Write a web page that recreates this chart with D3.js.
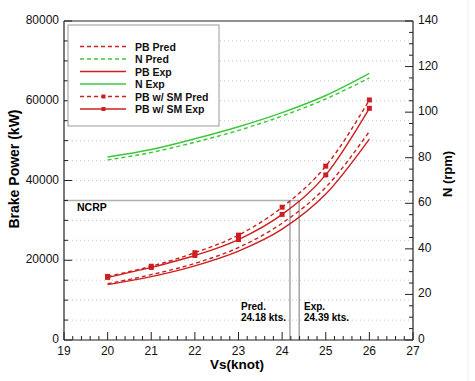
<!DOCTYPE html>
<html><head><meta charset="utf-8">
<script src="https://cdn.jsdelivr.net/npm/d3@7/dist/d3.min.js"></script>
<style>
html,body{margin:0;padding:0;background:#fff;}
svg{display:block;font-family:"Liberation Sans",Arial,Helvetica,sans-serif;}
</style></head>
<body><svg id="c" width="475" height="381"></svg>
<script>
const speeds = [20, 21, 22, 23, 24, 25, 26];
const pbPred = [14100, 16400, 19200, 23200, 29300, 38300, 52300];
const pbExp = [13900, 15900, 18600, 22300, 27800, 36600, 50400];
const nPred = [79.0, 82.3, 86.8, 92.0, 98.3, 105.8, 115.0];
const nExp = [80.3, 83.6, 88.3, 93.6, 99.8, 107.3, 117.0];
const pbSmPred = [15950, 18500, 21900, 26300, 33300, 43600, 60200];
const pbSmExp = [15700, 18200, 21200, 25200, 31500, 41400, 58100];
const xTicks = [19, 20, 21, 22, 23, 24, 25, 26, 27];
const yLeftTicks = [0, 20000, 40000, 60000, 80000];
const yRightTicks = [0, 20, 40, 60, 80, 100, 120, 140];
const ncrp = 35000;
const predSpeed = 24.18, expSpeed = 24.39;

const RED = "#cc2020", GREEN = "#3cc83c";
const svg = d3.select("#c");
const L = 64, R = 413, T = 21, B = 340;
const x = d3.scaleLinear().domain([19, 27]).range([L, R]);
const yL = d3.scaleLinear().domain([0, 80000]).range([B, T]);
const yR = d3.scaleLinear().domain([0, 140]).range([B, T]);

// faint right border artifact
svg.append("line").attr("x1", 468).attr("x2", 468).attr("y1", 0).attr("y2", 381)
  .attr("stroke", "#eeeeee").attr("stroke-width", 1);

// grid (dotted) every 5000
svg.append("g").selectAll("line").data(d3.range(5000, 80000, 5000)).join("line")
  .attr("x1", L).attr("x2", R).attr("y1", d => yL(d)).attr("y2", d => yL(d))
  .attr("stroke", "#c8c8c8").attr("stroke-width", 1).attr("stroke-dasharray", "1,3");

// NCRP lines
const g = svg.append("g");
g.append("line").attr("x1", x(19)).attr("x2", x(expSpeed)).attr("y1", yL(ncrp)).attr("y2", yL(ncrp))
  .attr("stroke", "#b0b0b0").attr("stroke-width", 1.5);
[predSpeed, expSpeed].forEach(s => {
  g.append("line").attr("x1", x(s)).attr("x2", x(s)).attr("y1", yL(ncrp)).attr("y2", B)
    .attr("stroke", "#777").attr("stroke-width", 1);
});
g.append("text").attr("x", 77).attr("y", 211).text("NCRP")
  .attr("font-size", 10.5).attr("font-weight", "bold");
const lab = (tx, l1, l2) => {
  g.append("text").attr("x", tx).attr("y", 310).text(l1).attr("font-size", 10).attr("font-weight", "bold");
  g.append("text").attr("x", tx).attr("y", 321).text(l2).attr("font-size", 10).attr("font-weight", "bold");
};
lab(241, "Pred.", predSpeed.toFixed(2) + " kts.");
lab(304, "Exp.", expSpeed.toFixed(2) + " kts.");

// lines
const lineL = d3.line().x((d, i) => x(speeds[i])).y(d => yL(d)).curve(d3.curveMonotoneX);
const lineR = d3.line().x((d, i) => x(speeds[i])).y(d => yR(d)).curve(d3.curveMonotoneX);
const series = [
  {d: nPred, f: lineR, c: GREEN, dash: "4,3"},
  {d: nExp, f: lineR, c: GREEN, dash: null},
  {d: pbPred, f: lineL, c: RED, dash: "4,3"},
  {d: pbExp, f: lineL, c: RED, dash: null},
  {d: pbSmPred, f: lineL, c: RED, dash: "4,3", m: true},
  {d: pbSmExp, f: lineL, c: RED, dash: null, m: true},
];
series.forEach(s => {
  svg.append("path").attr("d", s.f(s.d)).attr("fill", "none").attr("stroke", s.c)
    .attr("stroke-width", 1.4).attr("stroke-dasharray", s.dash);
  if (s.m) {
    svg.append("g").selectAll("rect").data(s.d).join("rect")
      .attr("x", (d, i) => x(speeds[i]) - 2.5).attr("y", d => yL(d) - 2.5)
      .attr("width", 5).attr("height", 5).attr("fill", s.c);
  }
});

// axes
const ax = svg.append("g").attr("stroke", "#222").attr("stroke-width", 1.2);
ax.append("line").attr("x1", L).attr("x2", R).attr("y1", B).attr("y2", B);
ax.append("line").attr("x1", L).attr("x2", R).attr("y1", T).attr("y2", T);
ax.append("line").attr("x1", L).attr("x2", L).attr("y1", T).attr("y2", B);
ax.append("line").attr("x1", R).attr("x2", R).attr("y1", T).attr("y2", B);

const tk = svg.append("g").attr("stroke", "#222").attr("stroke-width", 1);
d3.range(19, 27.001, 0.2).forEach(v => {
  const major = Math.abs(v - Math.round(v)) < 1e-6;
  tk.append("line").attr("x1", x(v)).attr("x2", x(v)).attr("y1", B).attr("y2", B - (major ? 8 : 4));
});
d3.range(0, 80001, 5000).forEach(v => {
  const major = v % 20000 === 0;
  tk.append("line").attr("x1", L).attr("x2", L + (major ? 8 : 4)).attr("y1", yL(v)).attr("y2", yL(v));
});
d3.range(0, 141, 5).forEach(v => {
  const major = v % 20 === 0;
  tk.append("line").attr("x1", R).attr("x2", R - (major ? 8 : 4)).attr("y1", yR(v)).attr("y2", yR(v));
});

const tl = svg.append("g").attr("font-size", 12).attr("fill", "#111");
tl.selectAll(".xt").data(xTicks).join("text").attr("x", d => x(d)).attr("y", 355)
  .attr("text-anchor", "middle").text(d => d);
tl.selectAll(".yl").data(yLeftTicks).join("text").attr("x", 59).attr("y", d => yL(d) + 3)
  .attr("text-anchor", "end").text(d => d);
tl.selectAll(".yr").data(yRightTicks).join("text").attr("x", 418).attr("y", d => yR(d) + 3)
  .attr("text-anchor", "start").text(d => d);

// axis titles
svg.append("text").attr("transform", "translate(19,169) rotate(-90)").attr("text-anchor", "middle")
  .attr("font-size", 14).attr("font-weight", "bold").text("Brake Power (kW)");
svg.append("text").attr("transform", "translate(452,174) rotate(-90)").attr("text-anchor", "middle")
  .attr("font-size", 13).attr("font-weight", "bold").text("N (rpm)");
svg.append("text").attr("x", 237).attr("y", 369).attr("text-anchor", "middle")
  .attr("font-size", 13.5).attr("font-weight", "bold").text("Vs(knot)");

// legend
const legendItems = [
  {t: "PB Pred", c: RED, dash: "4,3"},
  {t: "N Pred", c: GREEN, dash: "4,3"},
  {t: "PB Exp", c: RED, dash: null},
  {t: "N Exp", c: GREEN, dash: null},
  {t: "PB w/ SM Pred", c: RED, dash: "4,3", m: true},
  {t: "PB w/ SM Exp", c: RED, dash: null, m: true},
];
const lg = svg.append("g");
lg.append("rect").attr("x", 68).attr("y", 25).attr("width", 151).attr("height", 101)
  .attr("fill", "#fff").attr("stroke", "#999").attr("stroke-width", 1);
legendItems.forEach((it, i) => {
  const yy = 46.5 + i * 12.5;
  lg.append("line").attr("x1", 80).attr("x2", 126).attr("y1", yy).attr("y2", yy)
    .attr("stroke", it.c).attr("stroke-width", 1.4).attr("stroke-dasharray", it.dash);
  if (it.m) lg.append("rect").attr("x", 101.5).attr("y", yy - 2).attr("width", 4).attr("height", 4).attr("fill", it.c);
  lg.append("text").attr("x", 135).attr("y", yy + 4).attr("font-size", 10.5).attr("font-weight", "bold")
    .attr("fill", "#111").text(it.t);
});
</script></body></html>
